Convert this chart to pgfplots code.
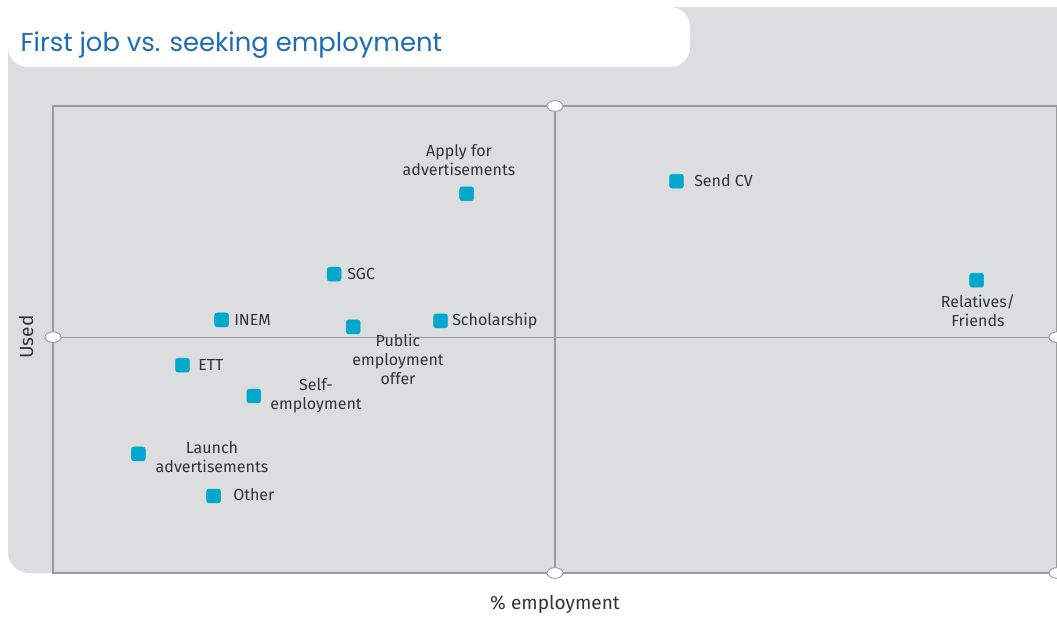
\documentclass[border=0pt]{standalone}
\usepackage{pgfplots}
\pgfplotsset{compat=1.18}
\usepackage{fontspec}
\setmainfont{Fira Sans}
\newfontfamily\titlefont{Poppins}

\definecolor{panel}{HTML}{DCDDDF}
\definecolor{frame}{HTML}{9B9B9B}
\definecolor{dot}{HTML}{00A8CC}
\definecolor{titleblue}{HTML}{1E6CB4}
\definecolor{txt}{HTML}{333333}
\tikzset{oval/.style={frame, fill=white, line width=0.7pt}}
% rounded square mark
\pgfdeclareplotmark{rsquare}{%
  \fill[dot, rounded corners=1.8pt]
    (-\pgfplotmarksize,-\pgfplotmarksize) rectangle (\pgfplotmarksize,\pgfplotmarksize);}

% pixel grid of the reference: 1px = 0.75pt, y grows downwards
\begin{document}
\begin{tikzpicture}[x=0.75pt, y=-0.75pt]
\useasboundingbox (0,0) rectangle (1057,618);
\clip (0,0) rectangle (1057,618);

% grey panel and white title box
\fill[panel, rounded corners=16pt] (8,7) rectangle (1120,573);
\fill[white, rounded corners=15pt] (8,7) rectangle (690,67);
\node[anchor=west, text=titleblue, font=\titlefont\fontsize{19.4}{22}\selectfont]
  at (16,45) {First job vs. seeking employment};

\begin{axis}[
    at={(39.75pt,-429.75pt)}, anchor=south west,
    scale only axis,
    width=753pt, height=350.25pt,
    xmin=0, xmax=100, ymin=0, ymax=100,
    axis line style={frame, line width=0.9pt},
    ticks=none,
    clip=false,
]
\draw[frame, line width=0.9pt] (axis cs:50,0) -- (axis cs:50,100);
\draw[frame, line width=0.9pt] (axis cs:0,50.5) -- (axis cs:100,50.5);

\addplot[only marks, mark=rsquare, mark size=5.2pt]
  coordinates {
    (41.2,81.2) % Apply for advertisements
    (62.1,83.9) % Send CV
    (92.0,62.7) % Relatives/Friends
    (28.0,64.0) % SGC
    (16.8,54.2) % INEM
    (29.9,52.7) % Public employment offer
    (38.6,54.0) % Scholarship
    (12.9,44.5) % ETT
    (20.0,37.9) % Self-employment
    (8.5,25.5)  % Launch advertisements
    (16.0,16.5) % Other
  };

\draw[oval] (axis cs:50,100) ellipse[x radius=6pt, y radius=4pt];
\draw[oval] (axis cs:50,0) ellipse[x radius=6pt, y radius=4pt];
\draw[oval] (axis cs:0,50.5) ellipse[x radius=6pt, y radius=4pt];
\draw[oval] (axis cs:100,50.5) ellipse[x radius=6pt, y radius=4pt];
\draw[oval] (axis cs:100,0) ellipse[x radius=6pt, y radius=4pt];
\end{axis}

% point labels
\begin{scope}[every node/.style={text=txt, font=\fontsize{12}{14.2}\selectfont, inner sep=0pt}]
\node[align=center] at (459,160) {Apply for\\advertisements};
\node[anchor=west]  at (694,181) {Send CV};
\node[align=center] at (978,310.5) {Relatives/\\Friends};
\node[anchor=west]  at (347,274) {SGC};
\node[anchor=west]  at (234,320) {INEM};
\node[anchor=west]  at (452,321) {Scholarship};
\node[align=center] at (398,359) {Public\\employment\\offer};
\node[anchor=west]  at (198,365) {ETT};
\node[align=center] at (316,395.5) {Self-\\employment};
\node[align=center] at (212,457) {Launch\\advertisements};
\node[anchor=west]  at (233,495) {Other};
\end{scope}

% axis titles
\node[text=txt, font=\fontsize{14.3}{16}\selectfont] at (555,604) {\% employment};
\node[text=txt, font=\fontsize{14.3}{16}\selectfont, rotate=90] at (26,337) {Used};
\end{tikzpicture}
\end{document}
